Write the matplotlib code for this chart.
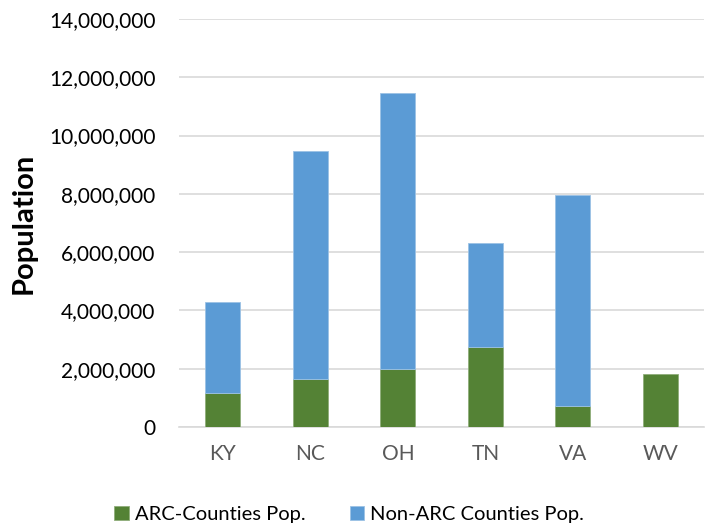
import matplotlib.pyplot as plt
from matplotlib.ticker import FuncFormatter, MultipleLocator

states = ["KY", "NC", "OH", "TN", "VA", "WV"]
arc_pop = [1150000, 1660000, 2000000, 2740000, 730000, 1820000]
non_arc_pop = [3150000, 7820000, 9470000, 3560000, 7220000, 0]

green = "#548235"
blue = "#5b9bd5"

plt.rcParams['font.family'] = ['Lato', 'DejaVu Sans']

fig = plt.figure(figsize=(7.05, 5.25), dpi=100)
ax = fig.add_axes([0.254, 0.1867, 0.745, 0.7771])

x = range(len(states))
ax.bar(x, arc_pop, width=0.4, color=green, edgecolor="#8fae7a", linewidth=0.6,
       label="ARC-Counties Pop.", zorder=3)
ax.bar(x, non_arc_pop, width=0.4, bottom=arc_pop, color=blue, edgecolor="#9cc2e5",
       linewidth=[0.6 if v > 0 else 0 for v in non_arc_pop],
       label="Non-ARC Counties Pop.", zorder=3)

ax.set_xlim(-0.5, len(states) - 0.5)
ax.set_ylim(0, 14000000)
ax.yaxis.set_major_locator(MultipleLocator(2000000))
ax.yaxis.set_major_formatter(FuncFormatter(lambda v, p: f"{int(v):,}"))
ax.set_xticks(list(x))
ax.set_xticklabels(states)

ax.grid(axis='y', color="#d9d9d9", linewidth=1.2, zorder=0)
for s in ['top', 'right', 'left']:
    ax.spines[s].set_visible(False)
ax.spines['bottom'].set_color("#d9d9d9")
ax.spines['bottom'].set_linewidth(1.2)
ax.tick_params(axis='both', length=0, labelsize=15)
ax.tick_params(axis='y', pad=17, colors="#000000")
ax.tick_params(axis='x', pad=12, labelcolor="#595959")

fig.text(0.034, 0.5744, "Population", rotation=90, fontsize=21, fontweight='bold',
         ha='center', va='center')

fig.legend(loc='lower center', bbox_to_anchor=(0.495, -0.03), ncol=2, frameon=False,
           fontsize=14.5, handlelength=0.7, handleheight=0.7, handletextpad=0.3,
           columnspacing=2.2)

fig.savefig("out.png", dpi=100)
